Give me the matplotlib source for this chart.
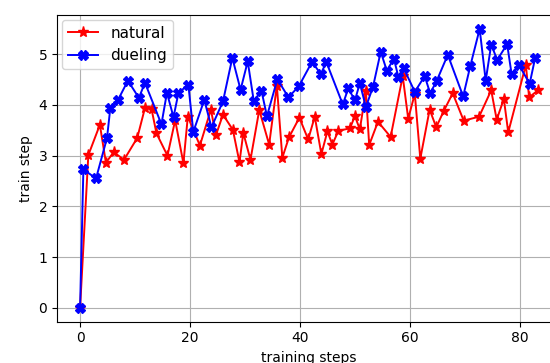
import numpy as np
import matplotlib
matplotlib.use("Agg")
import matplotlib.pyplot as plt

# ----------------------------
# Data
# ----------------------------

natural_x = [0, 1.5, 3.6, 4.7, 6.1, 8.0, 10.4, 11.8, 13.0, 13.9,
             15.9, 17.3, 18.8, 19.6, 21.8, 23.8, 24.7, 26.0, 27.8, 29.0,
             29.7, 31.0, 32.6, 34.4, 35.8, 36.8, 38.0, 39.9, 41.5, 42.7,
             43.9, 45.0, 45.9, 47.0, 49.1, 50.0, 50.9, 52.0, 52.6, 54.2,
             56.5, 58.7, 59.7, 60.9, 61.9, 63.6, 64.8, 66.2, 67.8, 69.8,
             72.6, 74.8, 75.8, 77.1, 77.9, 81.1, 81.7, 83.3]
natural_y = [0, 3.01, 3.61, 2.86, 3.07, 2.92, 3.35, 3.94, 3.92, 3.44,
             3.00, 3.70, 2.85, 3.77, 3.20, 3.91, 3.40, 3.81, 3.51, 2.87,
             3.45, 2.92, 3.90, 3.22, 4.38, 2.96, 3.36, 3.75, 3.32, 3.77,
             3.03, 3.48, 3.22, 3.49, 3.54, 3.78, 3.52, 4.27, 3.21, 3.67,
             3.37, 4.57, 3.73, 4.22, 2.94, 3.91, 3.56, 3.89, 4.23, 3.69,
             3.77, 4.29, 3.71, 4.12, 3.46, 4.79, 4.15, 4.29]

dueling_x = [0, 0.6, 2.9, 4.9, 5.5, 6.9, 8.7, 10.7, 11.8, 14.8,
             15.8, 17.0, 17.9, 19.7, 20.6, 22.6, 23.9, 26.0, 27.7, 29.2,
             30.5, 31.6, 33.0, 34.0, 35.9, 37.9, 39.8, 42.2, 43.8, 44.8,
             47.8, 48.8, 50.0, 50.9, 52.0, 53.3, 54.7, 55.8, 57.1, 57.9,
             58.9, 60.9, 62.7, 63.7, 64.9, 66.9, 69.7, 71.0, 72.7, 73.8,
             74.8, 75.9, 77.7, 78.5, 79.9, 81.8, 82.8]
dueling_y = [0, 2.73, 2.55, 3.35, 3.94, 4.10, 4.48, 4.14, 4.44, 3.62,
             4.24, 3.76, 4.24, 4.40, 3.47, 4.10, 3.56, 4.07, 4.93, 4.30,
             4.86, 4.08, 4.28, 3.78, 4.51, 4.15, 4.37, 4.85, 4.61, 4.85,
             4.01, 4.33, 4.09, 4.43, 3.96, 4.36, 5.05, 4.68, 4.91, 4.56,
             4.72, 4.26, 4.57, 4.23, 4.48, 4.99, 4.17, 4.77, 5.50, 4.48,
             5.19, 4.89, 5.20, 4.62, 4.78, 4.42, 4.93]

# ----------------------------
# Plot
# ----------------------------

fig = plt.figure(figsize=(5.5, 3.63), dpi=100)

# axes runs past the right edge, like the cropped reference
ax = fig.add_axes([57 / 550, 41.3 / 363, 504 / 550, 306.7 / 363])

ax.plot(natural_x, natural_y, color="r", marker="*", markersize=8,
        linewidth=1.4, label="natural")
ax.plot(dueling_x, dueling_y, color="b", marker="X", markersize=7,
        linewidth=1.4, label="dueling")

ax.set_xlim(-4.2, 87.5)
ax.set_xticks([0, 20, 40, 60, 80])
ax.set_yticks([0, 1, 2, 3, 4, 5])

ax.set_xlabel("training steps")
ax.set_ylabel("train step")

ax.legend(loc="upper left", fontsize=11, borderaxespad=0.3)

ax.grid(True)

fig.savefig("out.png", dpi=100)
